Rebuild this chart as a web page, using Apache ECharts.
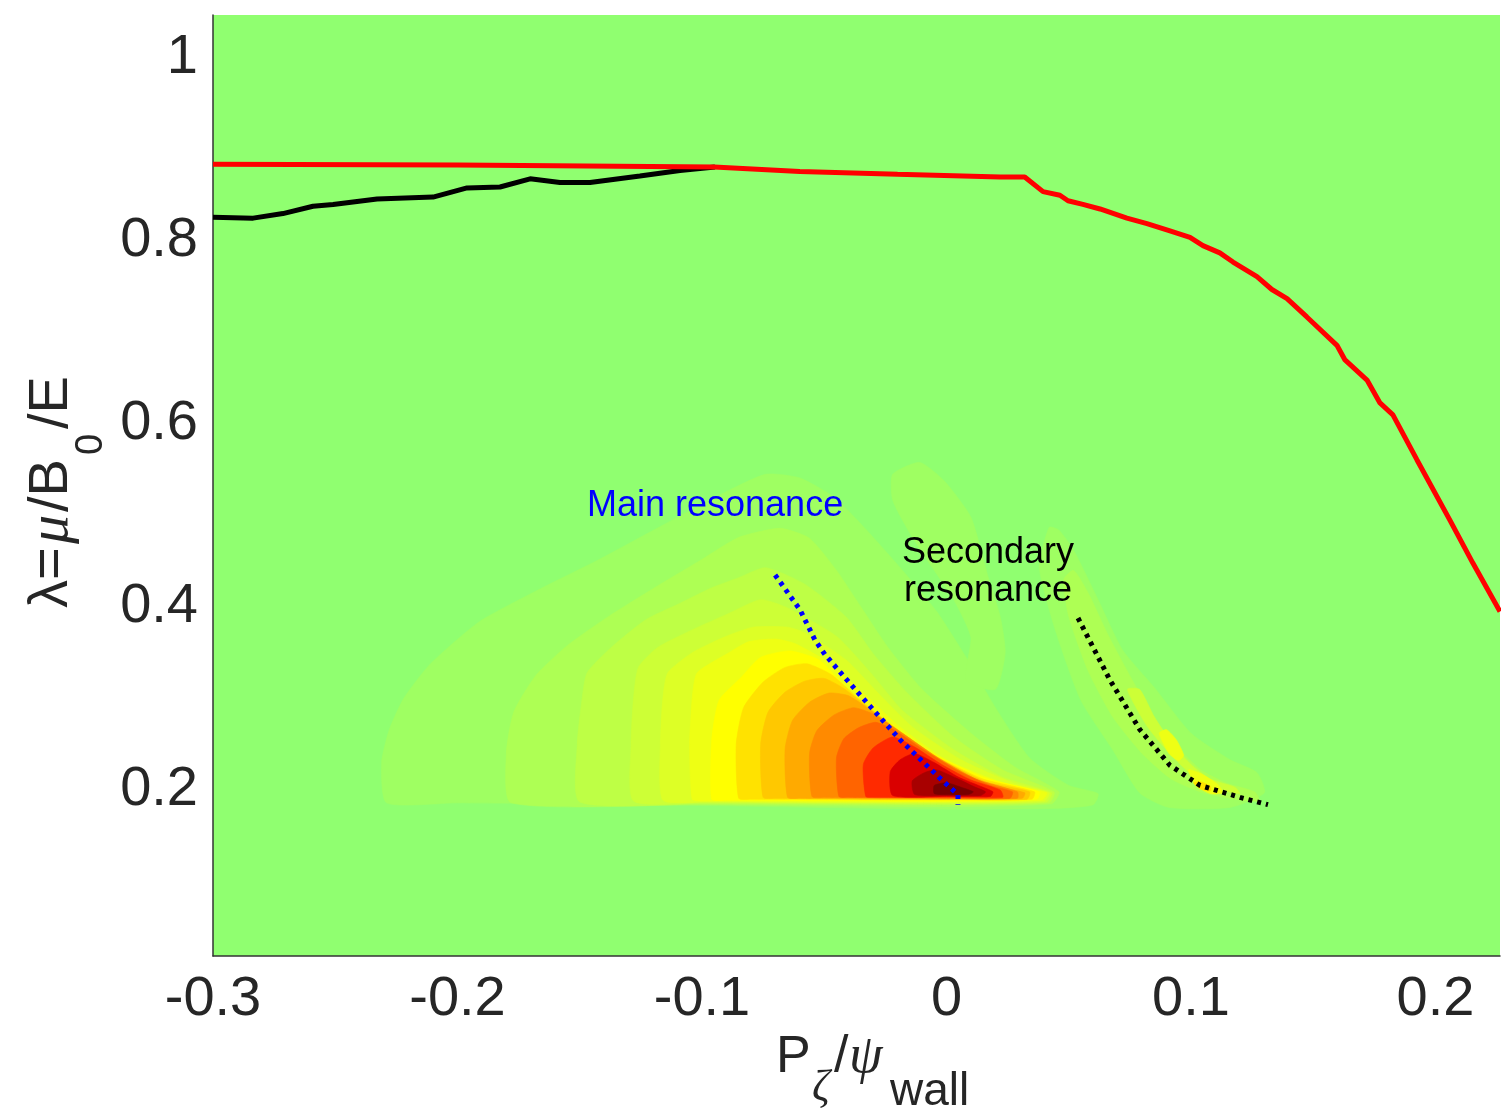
<!DOCTYPE html>
<html>
<head>
<meta charset="utf-8">
<script src="https://cdn.jsdelivr.net/npm/echarts@6/dist/echarts.min.js"></script>
<style>
  html, body { margin: 0; padding: 0; background: #fff; }
  #chart { width: 1501px; height: 1112px; }
</style>
</head>
<body>
<div id="chart"></div>
<script>
// axis ticks
var xTicks = [-0.3, -0.2, -0.1, 0, 0.1, 0.2];
var yTicks = [0.2, 0.4, 0.6, 0.8, 1];

// boundary curves [P_zeta/psi_wall, lambda]
var redBoundary = [[-0.3, 0.884], [-0.2, 0.883], [-0.095, 0.881], [-0.06, 0.876], [-0.02, 0.873],
  [0.022, 0.870], [0.032, 0.870], [0.0395, 0.854], [0.0464, 0.850], [0.0497, 0.844], [0.0558, 0.840],
  [0.0628, 0.835], [0.0738, 0.825], [0.082, 0.819], [0.0914, 0.811], [0.0996, 0.804], [0.1049, 0.795],
  [0.1118, 0.787], [0.1172, 0.777], [0.127, 0.761], [0.1331, 0.747], [0.1393, 0.737], [0.1474, 0.717],
  [0.1597, 0.686], [0.163, 0.670], [0.172, 0.648], [0.1773, 0.623], [0.1826, 0.610], [0.1924, 0.561],
  [0.2059, 0.495], [0.2153, 0.448], [0.2264, 0.395]];
var blackBoundary = [[-0.3, 0.826], [-0.2836, 0.825], [-0.2714, 0.830], [-0.2591, 0.838], [-0.2509, 0.840],
  [-0.2329, 0.846], [-0.21, 0.848], [-0.1961, 0.858], [-0.1826, 0.859], [-0.1703, 0.868], [-0.1581, 0.864],
  [-0.1458, 0.864], [-0.1254, 0.871], [-0.109, 0.877], [-0.0947, 0.881]];

// resonance lines
var mainResonance = [[-0.0701, 0.435], [-0.0599, 0.397], [-0.0538, 0.364], [-0.0497, 0.348], [-0.0354, 0.304],
  [-0.019, 0.255], [-0.0027, 0.213], [0.0047, 0.195], [0.0047, 0.184]];
var secondaryResonance = [[0.0538, 0.388], [0.0669, 0.320], [0.0791, 0.266], [0.0914, 0.227], [0.1037, 0.205],
  [0.12, 0.192], [0.1315, 0.184]];

// filled contours (outer -> inner)
var mainC1 = [[-0.229,0.186],[-0.231,0.230],[-0.228,0.265],[-0.222,0.300],[-0.211,0.338],[-0.191,0.384],[-0.166,0.420],[-0.142,0.452],[-0.117,0.488],[-0.093,0.522],[-0.074,0.545],[-0.060,0.541],[-0.046,0.520],[-0.033,0.485],[-0.018,0.440],[-0.004,0.395],[0.008,0.345],[0.020,0.290],[0.034,0.235],[0.050,0.205],[0.062,0.196],[0.060,0.184],[0.045,0.180],[0.0,0.179],[-0.10,0.183],[-0.20,0.186]];
var streakC1 = [[-0.022,0.545],[-0.011,0.558],[-0.001,0.538],[0.010,0.498],[0.017,0.433],[0.022,0.389],[0.024,0.350],[0.020,0.310],[0.008,0.320],[0.010,0.367],[0.003,0.408],[-0.006,0.444],[-0.015,0.481],[-0.022,0.517]];
var secC1 = [[0.042,0.487],[0.038,0.443],[0.045,0.371],[0.055,0.298],[0.068,0.244],[0.079,0.197],[0.091,0.181],[0.116,0.181],[0.130,0.197],[0.127,0.219],[0.116,0.233],[0.100,0.262],[0.085,0.312],[0.072,0.353],[0.062,0.408],[0.052,0.462],[0.046,0.484]];
var mainC2 = [[-0.178,0.186],[-0.180,0.240],[-0.177,0.285],[-0.168,0.325],[-0.155,0.358],[-0.138,0.390],[-0.120,0.420],[-0.100,0.452],[-0.085,0.476],[-0.068,0.486],[-0.056,0.475],[-0.045,0.440],[-0.035,0.400],[-0.024,0.356],[-0.010,0.310],[0.010,0.262],[0.028,0.225],[0.046,0.198],[0.043,0.185],[0.0,0.182],[-0.10,0.184]];
var secC2 = [[0.048,0.430],[0.050,0.390],[0.058,0.330],[0.068,0.280],[0.080,0.240],[0.092,0.212],[0.105,0.197],[0.118,0.190],[0.128,0.188],[0.126,0.198],[0.115,0.207],[0.104,0.222],[0.095,0.245],[0.086,0.275],[0.076,0.320],[0.066,0.370],[0.058,0.415],[0.052,0.440]];
var mainC3 = [[-0.150,0.187],[-0.151,0.250],[-0.149,0.300],[-0.147,0.328],[-0.137,0.356],[-0.123,0.386],[-0.109,0.404],[-0.096,0.421],[-0.085,0.432],[-0.074,0.443],[-0.058,0.425],[-0.041,0.389],[-0.030,0.349],[-0.016,0.306],[0.003,0.258],[0.023,0.222],[0.044,0.198],[0.042,0.186],[0.0,0.184],[-0.10,0.185]];
var mainC4 = [[-0.128,0.188],[-0.129,0.250],[-0.128,0.300],[-0.126,0.334],[-0.118,0.356],[-0.104,0.375],[-0.089,0.393],[-0.076,0.408],[-0.065,0.399],[-0.045,0.368],[-0.031,0.328],[-0.018,0.287],[0.003,0.244],[0.023,0.214],[0.043,0.197],[0.041,0.187],[0.0,0.185],[-0.10,0.186]];
var secC3 = [[0.074,0.310],[0.082,0.270],[0.092,0.238],[0.102,0.213],[0.113,0.200],[0.120,0.196],[0.118,0.203],[0.108,0.212],[0.100,0.228],[0.092,0.252],[0.085,0.280],[0.079,0.310]];
var mainC5 = [[-0.116,0.189],[-0.117,0.250],[-0.116,0.300],[-0.114,0.328],[-0.104,0.350],[-0.091,0.367],[-0.079,0.378],[-0.065,0.378],[-0.058,0.372],[-0.041,0.342],[-0.028,0.306],[-0.014,0.269],[0.006,0.233],[0.027,0.208],[0.042,0.197],[0.040,0.188],[0.0,0.186],[-0.10,0.187]];
var mainC6 = [[-0.104,0.190],[-0.105,0.250],[-0.104,0.300],[-0.102,0.328],[-0.089,0.350],[-0.081,0.362],[-0.070,0.365],[-0.062,0.360],[-0.048,0.339],[-0.034,0.306],[-0.019,0.269],[0.000,0.233],[0.023,0.208],[0.041,0.197],[0.039,0.189],[0.0,0.187],[-0.10,0.188]];
var secC4a = [[0.087,0.262],[0.091,0.240],[0.095,0.232],[0.097,0.238],[0.094,0.255],[0.090,0.266]];
var secC4b = [[0.099,0.222],[0.102,0.205],[0.108,0.196],[0.113,0.197],[0.111,0.206],[0.104,0.218]];
var mainC7 = [[-0.096,0.190],[-0.096,0.255],[-0.093,0.298],[-0.084,0.323],[-0.076,0.345],[-0.064,0.352],[-0.052,0.342],[-0.040,0.309],[-0.025,0.277],[-0.007,0.242],[0.016,0.213],[0.038,0.198],[0.037,0.190],[0.0,0.188],[-0.09,0.189]];
var mainC8 = [[-0.085,0.191],[-0.086,0.250],[-0.083,0.290],[-0.075,0.318],[-0.066,0.334],[-0.057,0.338],[-0.047,0.326],[-0.036,0.300],[-0.022,0.270],[-0.005,0.238],[0.015,0.212],[0.036,0.198],[0.035,0.190],[0.0,0.189],[-0.08,0.190]];
var secC5 = [[0.101,0.208],[0.104,0.201],[0.108,0.199],[0.108,0.204],[0.104,0.209]];
var mainC9 = [[-0.075,0.192],[-0.076,0.250],[-0.073,0.285],[-0.066,0.307],[-0.058,0.319],[-0.050,0.322],[-0.042,0.311],[-0.032,0.290],[-0.018,0.262],[-0.002,0.233],[0.016,0.209],[0.034,0.198],[0.033,0.190],[0.0,0.190],[-0.07,0.191]];
var mainC10 = [[-0.065,0.192],[-0.066,0.245],[-0.063,0.276],[-0.056,0.296],[-0.048,0.306],[-0.040,0.303],[-0.030,0.285],[-0.016,0.257],[0.000,0.229],[0.016,0.207],[0.032,0.197],[0.031,0.191],[0.0,0.190],[-0.06,0.191]];
var mainC11 = [[-0.055,0.193],[-0.056,0.240],[-0.053,0.265],[-0.046,0.282],[-0.038,0.290],[-0.030,0.283],[-0.018,0.262],[-0.004,0.236],[0.012,0.212],[0.029,0.198],[0.029,0.191],[0.0,0.191],[-0.05,0.192]];
var mainC12 = [[-0.044,0.193],[-0.045,0.235],[-0.042,0.256],[-0.036,0.268],[-0.029,0.274],[-0.021,0.265],[-0.010,0.245],[0.004,0.222],[0.018,0.205],[0.027,0.198],[0.026,0.191],[0.0,0.191],[-0.04,0.192]];
var mainC13 = [[-0.033,0.193],[-0.034,0.228],[-0.030,0.246],[-0.022,0.258],[-0.013,0.247],[-0.002,0.228],[0.010,0.211],[0.022,0.200],[0.023,0.192],[0.0,0.192],[-0.03,0.192]];
var mainC14 = [[-0.022,0.194],[-0.023,0.220],[-0.019,0.233],[-0.013,0.240],[-0.005,0.230],[0.005,0.214],[0.015,0.203],[0.019,0.198],[0.018,0.193],[0.0,0.193]];
var mainC15 = [[-0.013,0.195],[-0.014,0.210],[-0.009,0.219],[-0.004,0.222],[0.004,0.213],[0.011,0.204],[0.016,0.198],[0.014,0.194],[0.0,0.194]];
var mainC16 = [[-0.005,0.196],[-0.005,0.205],[0.000,0.208],[0.006,0.203],[0.011,0.198],[0.009,0.195],[0.0,0.195]];

// colour of each contour level (0 = background)
var levelColors = ['#90FF70', '#9FFF62', '#AEFF54', '#BEFF45', '#CDFF36', '#DDFF26', '#EEFF14', '#FFFF00',
  '#FFE200', '#FFC800', '#FFAA00', '#FF8A00', '#FF6400', '#FF2A00', '#DA0000', '#A80000', '#780000'];

var contours = [
  [1, mainC1], [1, streakC1], [1, secC1],
  [2, mainC2], [2, secC2],
  [3, mainC3],
  [4, mainC4], [4, secC3],
  [5, mainC5],
  [6, mainC6], [6, secC4a], [6, secC4b],
  [7, mainC7],
  [8, mainC8], [8, secC5],
  [9, mainC9], [10, mainC10], [11, mainC11], [12, mainC12],
  [13, mainC13], [14, mainC14], [15, mainC15], [16, mainC16]
];

var font = 'Liberation Sans, Arial, Helvetica, sans-serif';
var textColor = '#262626';

var chart = echarts.init(document.getElementById('chart'));

function fmt(v) { return String(Math.round(v * 10) / 10); }

function txt(x, y, s, size, opts) {
  opts = opts || {};
  return {
    type: 'text', x: x, y: y, rotation: opts.rot || 0, z: 100,
    style: {
      text: s,
      font: (opts.italic ? 'italic ' : '') + size + 'px ' + (opts.family || font),
      fill: opts.color || textColor,
      align: opts.align || 'left', textAlign: opts.align || 'left',
      verticalAlign: 'middle', textVerticalAlign: 'middle'
    }
  };
}

var serif = 'Liberation Serif, DejaVu Serif, serif';
var rot = Math.PI / 2;

var option = {
  animation: false,
  backgroundColor: '#ffffff',
  grid: { left: 213, top: 15, right: 1, bottom: 156, show: true, backgroundColor: levelColors[0], borderWidth: 0 },
  xAxis: {
    type: 'value', min: -0.3, max: 0.2264,
    axisLine: { show: true, onZero: false, lineStyle: { color: '#333333', width: 1.5 } },
    axisTick: { show: false },
    splitLine: { show: false },
    axisLabel: { customValues: xTicks, formatter: fmt, fontSize: 56, fontFamily: font, color: textColor, margin: 16 }
  },
  yAxis: {
    type: 'value', min: 0.0186, max: 1.047,
    axisLine: { show: true, onZero: false, lineStyle: { color: '#333333', width: 1.5 } },
    axisTick: { show: false },
    splitLine: { show: false },
    axisLabel: { customValues: yTicks, formatter: fmt, fontSize: 56, fontFamily: font, color: textColor, margin: 15 }
  },
  series: [
    {
      type: 'custom',
      data: contours.map(function (c) { return c[1][0]; }),
      encode: { x: 0, y: 1 },
      silent: true,
      z: 1,
      renderItem: function (params, api) {
        var c = contours[params.dataIndex];
        var pts = c[1].map(function (p) { return api.coord(p); });
        var col = levelColors[c[0]];
        return {
          type: 'polygon',
          shape: { points: pts, smooth: 0.2 },
          style: { fill: col, stroke: col, lineWidth: 0.6 }
        };
      }
    },
    {
      type: 'line', data: blackBoundary, showSymbol: false, z: 3,
      lineStyle: { color: '#000000', width: 5 }
    },
    {
      type: 'line', data: redBoundary, showSymbol: false, z: 4,
      lineStyle: { color: '#FF0000', width: 5 }
    },
    {
      type: 'line', data: mainResonance, showSymbol: false, z: 5,
      lineStyle: { color: '#0000FF', width: 5, type: [4, 5], cap: 'butt' }
    },
    {
      type: 'line', data: secondaryResonance, showSymbol: false, z: 5,
      lineStyle: { color: '#000000', width: 5, type: [4, 5], cap: 'butt' }
    }
  ],
  graphic: [
    txt(587, 506, 'Main resonance', 36, { color: '#0000FF' }),
    txt(988, 553, 'Secondary', 36, { align: 'center', color: '#000000' }),
    txt(988, 591, 'resonance', 36, { align: 'center', color: '#000000' }),
    // x axis title: P_zeta / psi_wall
    txt(776, 1058, 'P', 52),
    txt(812, 1088, '\u03B6', 44, { italic: true, family: serif }),
    txt(834, 1058, '/', 52),
    txt(849, 1058, '\u03C8', 54, { italic: true, family: serif }),
    txt(890, 1092, 'wall', 46),
    // y axis title: lambda = mu / B_0 / E
    txt(52, 608, '\u03BB=', 56, { rot: rot }),
    txt(52, 544, '\u03BC', 58, { rot: rot, italic: true, family: serif }),
    txt(52, 512, '/B', 56, { rot: rot }),
    txt(92, 455, '0', 38, { rot: rot }),
    txt(52, 429, '/E', 56, { rot: rot })
  ]
};

chart.setOption(option);
</script>
</body>
</html>
